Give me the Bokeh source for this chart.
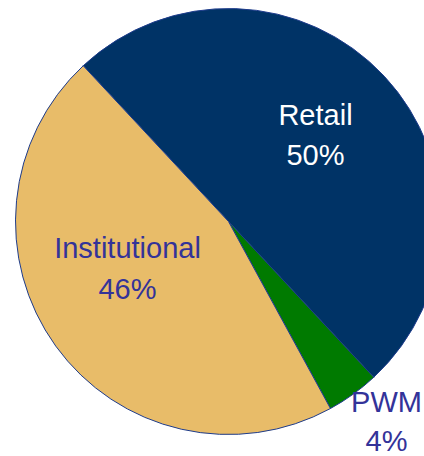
import math
from bokeh.plotting import figure
from bokeh.models import Range1d, ColumnDataSource
from bokeh.core.properties import value
from bokeh.embed import file_html
from bokeh.resources import INLINE

categories = ["Retail", "PWM", "Institutional"]
shares = [50, 4, 46]
colors = ["#003366", "#007A00", "#E8BC69"]
label_colors = ["#FFFFFF", "#333399", "#333399"]
label_x = [315, 386, 127]
name_y = [114, 401, 247]
pct_y = [154, 440, 288]

W, H = 424, 456
cx, cy, r = 228, H - 221, 213
start_deg = 133.0

starts, ends = [], []
a = math.radians(start_deg)
for s in shares:
    e = a - s / 100 * 2 * math.pi
    starts.append(e)
    ends.append(a)
    a = e

src = ColumnDataSource(dict(cat=categories, start=starts, end=ends, color=colors))

p = figure(width=W, height=H, output_backend="svg", toolbar_location=None,
           x_range=Range1d(0, W), y_range=Range1d(0, H), min_border=0)
p.axis.visible = False
p.grid.visible = False
p.outline_line_color = None
p.background_fill_color = "white"

p.wedge(x=cx, y=cy, radius=r, start_angle="start", end_angle="end",
        fill_color="color", line_color="#1E3C8C", line_width=1, source=src)

font = value("Liberation Sans")
for i, c in enumerate(categories):
    p.text(x=[label_x[i]], y=[H - name_y[i]], text=[c], text_font=font,
           text_font_size="29px", text_color=label_colors[i],
           text_align="center", text_baseline="middle")
    p.text(x=[label_x[i]], y=[H - pct_y[i]], text=[f"{shares[i]}%"], text_font=font,
           text_font_size="29px", text_color=label_colors[i],
           text_align="center", text_baseline="middle")

open("out.html", "w").write(file_html(p, INLINE))
